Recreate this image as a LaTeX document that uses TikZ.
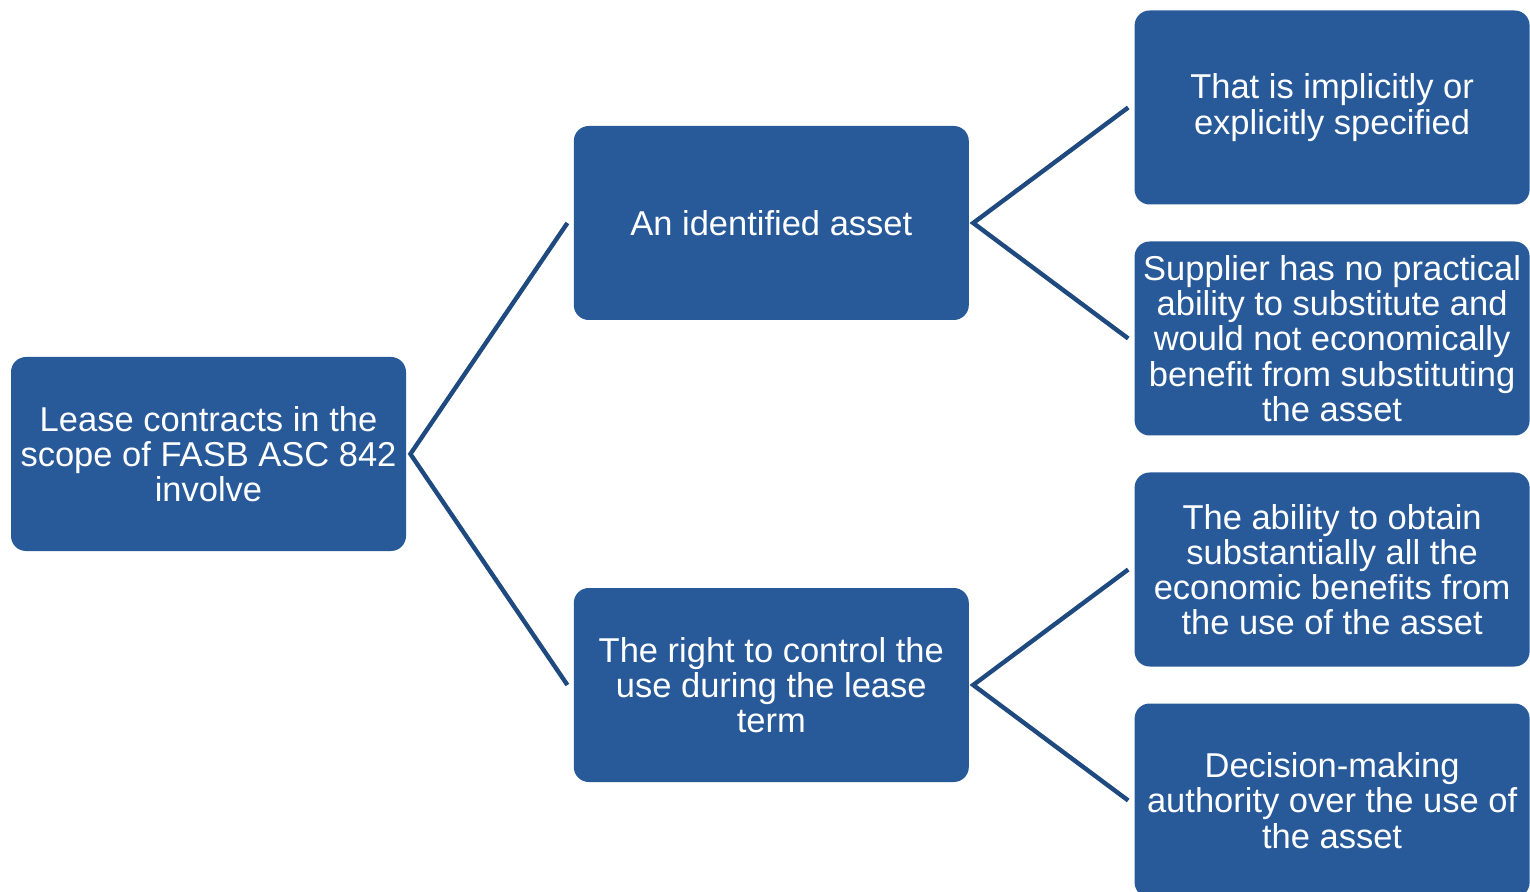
\documentclass[tikz,border=0pt]{standalone}
\usepackage{fontspec}
\setmainfont{Liberation Sans}
\usetikzlibrary{positioning}
\definecolor{boxblue}{HTML}{285A9A}
\definecolor{lineblue}{HTML}{1F4A80}
\tikzset{node distance=83.5pt, block/.style={fill=boxblue, rounded corners=7.5pt, minimum width=197.5pt, minimum height=97pt, inner sep=0pt, align=center, text=white, font=\fontsize{17.25}{17.6}\selectfont}, link/.style={draw=lineblue, line width=2.2pt}}

\begin{document}
\begin{tikzpicture}
				\useasboundingbox (0,0) rectangle (765pt,-446pt);
				\node[block] (L) at (104.25pt,-227pt) {Lease contracts in the\\scope of FASB ASC 842\\involve};

				\node[block] (A) [right=of L, yshift=115.5pt] {An identified asset};
				\node[block] (R) [right=of L, yshift=-115.5pt] {The right to control the\\use during the lease\\term};

				\node[block] (A1) [right=82.5pt of A, yshift=57.75pt] {That is implicitly or\\explicitly specified};
				\node[block] (A2) [right=82.5pt of A, yshift=-57.75pt] {Supplier has no practical\\ability to substitute and\\would not economically\\benefit from substituting\\the asset};
				\node[block] (R1) [right=82.5pt of R, yshift=57.75pt] {The ability to obtain\\substantially all the\\economic benefits from\\the use of the asset};
				\node[block] (R2) [right=82.5pt of R, yshift=-57.75pt] {Decision-making\\authority over the use of\\the asset};

				\path[link]
				([xshift=-3pt]A.west) -- ([xshift=2pt]L.east) -- ([xshift=-3pt]R.west)
				([xshift=-3pt]A1.west) -- ([xshift=2pt]A.east) -- ([xshift=-3pt]A2.west)
				([xshift=-3pt]R1.west) -- ([xshift=2pt]R.east) -- ([xshift=-3pt]R2.west);
			\end{tikzpicture}
\end{document}
